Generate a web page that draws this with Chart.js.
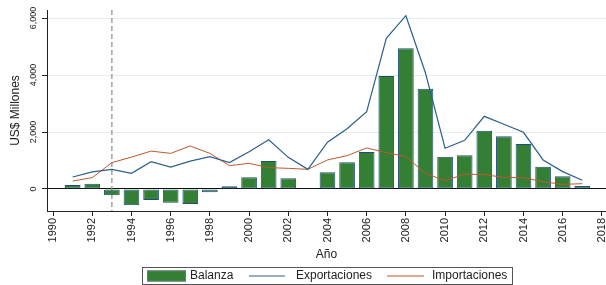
<!DOCTYPE html>
<html>
<head>
<meta charset="utf-8">
<script src="https://cdn.jsdelivr.net/npm/chart.js@4"></script>
<style>
  html, body { margin: 0; padding: 0; background: #fff; }
  canvas { display: block; }
</style>
</head>
<body>
<canvas id="chart" width="606" height="285"></canvas>
<script>
// Balanza comercial, US$ millones por año
const years = [1991, 1992, 1993, 1994, 1995, 1996, 1997, 1998, 1999, 2000, 2001, 2002, 2003, 2004,
  2005, 2006, 2007, 2008, 2009, 2010, 2011, 2012, 2013, 2014, 2015, 2016, 2017];
const balanza = [140, 180, -220, -570, -385, -480, -525, -115, 95, 410, 980, 375, 10, 590,
  935, 1300, 3965, 4935, 3520, 1135, 1180, 2045, 1850, 1580, 785, 445, 105];
const exportaciones = [420, 600, 690, 550, 960, 770, 980, 1135, 925, 1310, 1730, 1110, 690, 1640,
  2115, 2715, 5285, 6080, 4070, 1430, 1710, 2550, 2270, 1990, 1020, 610, 305];
const importaciones = [280, 400, 925, 1120, 1330, 1250, 1510, 1250, 820, 900, 750, 725, 690, 1020,
  1170, 1440, 1275, 1135, 550, 290, 525, 500, 410, 395, 255, 165, 185];

const xTicks = [1990, 1992, 1994, 1996, 1998, 2000, 2002, 2004, 2006, 2008, 2010, 2012, 2014, 2016, 2018];
const yTicks = [0, 2000, 4000, 6000];
const yTickLabels = ['0', '2,000', '4,000', '6,000'];
const markYear = 1993;

const FONT = '"Liberation Sans", Arial, sans-serif';
const GREEN = '#337f33';
const NAVY = '#1f4e79';
const BLUE = '#2d5f8e';
const RUST = '#c0582c';

const pts = (vals) => years.map((yr, i) => ({ x: yr, y: vals[i] }));

// dashed reference line at 1993
const xlinePlugin = {
  id: 'xline',
  beforeDatasetsDraw(chart) {
    const { ctx, chartArea, scales } = chart;
    const px = scales.x.getPixelForValue(markYear);
    ctx.save();
    ctx.strokeStyle = '#8c8c8c';
    ctx.lineWidth = 1.2;
    ctx.setLineDash([5, 3]);
    ctx.beginPath();
    ctx.moveTo(px, chartArea.top);
    ctx.lineTo(px, chartArea.bottom);
    ctx.stroke();
    ctx.restore();
  }
};

// rotated y tick labels, Stata style
const yLabelsPlugin = {
  id: 'ylabels',
  afterDraw(chart) {
    const { ctx, scales } = chart;
    ctx.save();
    ctx.fillStyle = '#222';
    ctx.font = '9px ' + FONT;
    ctx.textAlign = 'center';
    ctx.textBaseline = 'middle';
    yTicks.forEach((v, i) => {
      ctx.save();
      ctx.translate(34, scales.y.getPixelForValue(v));
      ctx.rotate(-Math.PI / 2);
      ctx.fillText(yTickLabels[i], 0, 0);
      ctx.restore();
    });
    ctx.restore();
  }
};

// boxed legend at the bottom
const legendPlugin = {
  id: 'boxLegend',
  afterDraw(chart) {
    const { ctx } = chart;
    const ds = chart.data.datasets;
    const top = 267, h = 17, left = 142.5, right = 512.5;
    const cy = top + h / 2 + 0.5;
    ctx.save();
    ctx.strokeStyle = '#555';
    ctx.lineWidth = 1;
    ctx.strokeRect(left, top + 0.5, right - left, h);
    ctx.font = '12px ' + FONT;
    ctx.textBaseline = 'middle';
    // Balanza swatch
    ctx.fillStyle = ds[0].backgroundColor;
    ctx.fillRect(147, cy - 5.5, 39, 11);
    ctx.strokeStyle = '#5f7f6f';
    ctx.strokeRect(147.5, cy - 5, 38, 10);
    ctx.fillStyle = '#222';
    ctx.fillText(ds[0].label, 190, cy);
    // line entries
    [[1, 249, 285, 296], [2, 387, 424, 432]].forEach(([i, x0, x1, tx]) => {
      ctx.strokeStyle = ds[i].borderColor;
      ctx.lineWidth = 1.2;
      ctx.beginPath();
      ctx.moveTo(x0, cy);
      ctx.lineTo(x1, cy);
      ctx.stroke();
      ctx.fillText(ds[i].label, tx, cy);
    });
    ctx.restore();
  }
};

new Chart(document.getElementById('chart'), {
  type: 'bar',
  data: {
    datasets: [
      { type: 'bar', label: 'Balanza', data: pts(balanza), backgroundColor: GREEN, borderColor: NAVY,
        borderWidth: 1, borderSkipped: false, barPercentage: 0.8, categoryPercentage: 1, order: 3 },
      { type: 'line', label: 'Exportaciones', data: pts(exportaciones), borderColor: BLUE, borderWidth: 1.2,
        pointRadius: 0, tension: 0, fill: false, order: 1 },
      { type: 'line', label: 'Importaciones', data: pts(importaciones), borderColor: RUST, borderWidth: 1,
        pointRadius: 0, tension: 0, fill: false, order: 2 }
    ]
  },
  options: {
    responsive: false,
    animation: false,
    layout: { padding: { left: 0, right: 0, top: 10, bottom: 23 } },
    plugins: { legend: { display: false }, tooltip: { enabled: false } },
    scales: {
      x: {
        type: 'linear', min: 1989.69, max: 2018.21, offset: false,
        afterBuildTicks: (s) => { s.ticks = xTicks.map(v => ({ value: v })); },
        afterFit: (s) => { s.height = 51; s.paddingLeft = 0; s.paddingRight = 0; },
        grid: { offset: false, drawOnChartArea: false, tickLength: 5, tickColor: '#222' },
        border: { color: '#222', width: 1 },
        ticks: { minRotation: 90, maxRotation: 90, padding: 2, color: '#222',
          font: { family: FONT, size: 11 }, callback: (v) => String(v) },
        title: { display: true, text: 'Año', color: '#222', padding: 0, font: { family: FONT, size: 12 } }
      },
      y: {
        min: -772, max: 6281,
        afterBuildTicks: (s) => { s.ticks = yTicks.map(v => ({ value: v })); },
        afterFit: (s) => { s.width = 47; },
        grid: {
          color: (c) => (c.tick && c.tick.value === 0 ? '#111' : '#e4eef1'),
          tickLength: 5, tickColor: '#222', lineWidth: 1
        },
        border: { color: '#222', width: 1 },
        ticks: { display: false },
        title: { display: true, text: 'US$ Millones', color: '#222', padding: { top: 8, bottom: 0 },
          font: { family: FONT, size: 12 } }
      }
    }
  },
  plugins: [xlinePlugin, yLabelsPlugin, legendPlugin]
});
</script>
</body>
</html>
